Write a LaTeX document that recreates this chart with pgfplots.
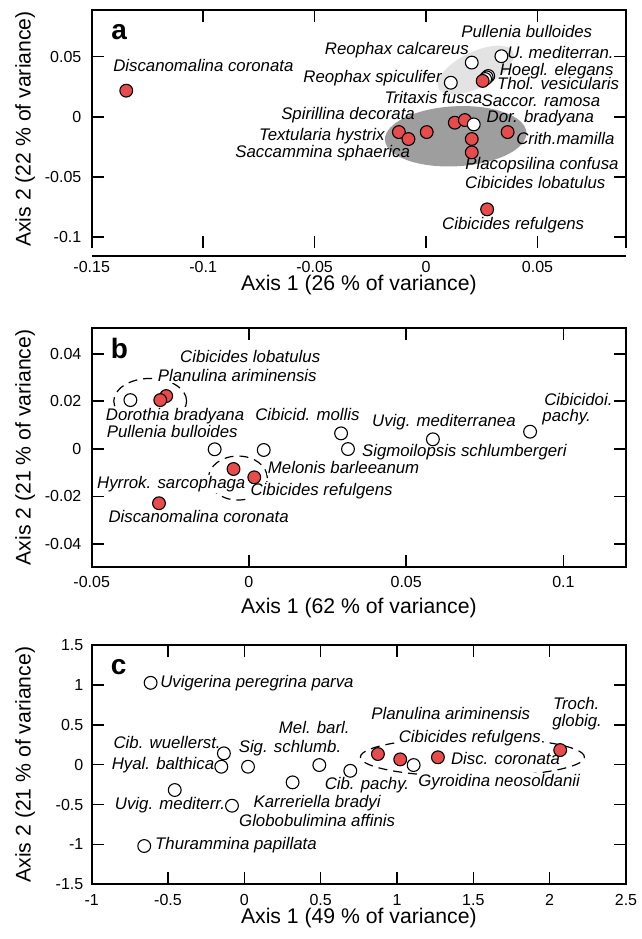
\documentclass[border=0pt]{standalone}
\usepackage{fontspec}
\setmainfont{Liberation Sans}
\usepackage{pgfplots}
\pgfplotsset{compat=1.18}
\definecolor{dotred}{HTML}{E84B4B}
\definecolor{lightgr}{HTML}{E3E3E3}
\definecolor{darkgr}{HTML}{9E9E9E}

\tikzset{
  lab/.style={font=\fontsize{8.4}{10}\selectfont\itshape, anchor=mid, inner sep=0.6pt},
  labw/.style={lab, fill=white},
  let/.style={font=\fontsize{14}{16}\selectfont\bfseries, anchor=center, inner sep=0pt},
  dashell/.style={line width=0.6pt, dash pattern=on 4.5pt off 3pt},
}
\pgfplotsset{
  panel/.style={
    scale only axis, width=267.15pt, anchor=north west,
    clip=false,
    axis line style={line width=0.9pt},
    tick style={line width=0.8pt, color=black},
    tick align=inside, major tick length=6pt,
    scaled ticks=false,
    /pgf/number format/assume math mode=true,
    /pgf/number format/fixed,
    /pgf/number format/precision=2,
    tick label style={font=\fontsize{8}{9.6}\selectfont},
    yticklabel style={anchor=east, inner sep=0pt},
    xticklabel style={anchor=north, inner sep=0pt},
    label style={font=\fontsize{10.6}{12.7}\selectfont},
    ylabel style={at={(axis description cs:-0.1246,0.5)}, anchor=center},
  },
  wdot/.style={only marks, mark=*, mark size=3.2pt,
    mark options={draw=black, fill=white, line width=0.55pt}},
  rdot/.style={only marks, mark=*, mark size=3.2pt,
    mark options={draw=black, fill=dotred, line width=0.55pt}},
}

\begin{document}
\begin{tikzpicture}
\path[use as bounding box] (0,0) rectangle (321pt,-469.5pt);

% ---------------- panel a
\begin{axis}[panel, at={(45.85pt,-5pt)}, height=119pt,
  xmin=-0.15, xmax=0.0897, ymin=-0.1094, ymax=0.0889,
  xtick={-0.15,-0.1,-0.05,0,0.05}, ytick={-0.1,-0.05,0,0.05},
  xticklabel style={yshift=-6.45pt}, yticklabel style={xshift=-5pt},
  separate axis lines,
  every outer x axis line/.append style={draw=none},
  xlabel={Axis 1 (26 \% of variance)}, ylabel={Axis 2 (22 \% of variance)},
  xlabel style={at={(axis description cs:0.5,-0.1555)}, anchor=center},
]
\fill[lightgr, rotate around={26:(axis cs:0.0223,0.0389)}]
  (axis cs:0.0223,0.0389) ellipse [x radius=20.8pt, y radius=9pt];
\fill[darkgr, rotate around={3:(axis cs:0.0133,-0.0163)}]
  (axis cs:0.0133,-0.0163) ellipse [x radius=35.4pt, y radius=15pt];
\draw[line width=0.9pt, line cap=rect] (rel axis cs:0,1) -- (rel axis cs:1,1);
\draw[line width=0.9pt] ([yshift=-4pt]rel axis cs:0,0) -- ([yshift=-4pt]rel axis cs:1,0);

\node[let] at (axis cs:-0.1377,0.0708) {a};
\node[lab] at (axis cs:0.0452,0.0708) {Pullenia bulloides};
\node[lab] at (axis cs:-0.0131,0.0564) {Reophax calcareus};
\node[lab] at (axis cs:0.0603,0.0528) {U. mediterran.};
\node[lab] at (axis cs:0.0586,0.0389) {Hoegl. elegans};
\node[lab] at (axis cs:-0.0240,0.0333) {Reophax spiculifer};
\node[lab] at (axis cs:0.0592,0.0273) {Thol. vesicularis};
\node[lab] at (axis cs:0.0033,0.0158) {Tritaxis fusca};
\node[lab] at (axis cs:0.0515,0.0131) {Saccor. ramosa};
\node[lab] at (axis cs:0.0513,-0.0008) {Dor. bradyana};
\node[lab] at (axis cs:0.0625,-0.0186) {Crith.mamilla};
\node[lab] at (axis cs:0.0520,-0.0397) {Placopsilina confusa};
\node[lab] at (axis cs:0.0490,-0.0550) {Cibicides lobatulus};
\node[lab] at (axis cs:0.0391,-0.0897) {Cibicides refulgens};
\node[lab] at (axis cs:-0.0999,0.0417) {Discanomalina coronata};
\node[lab] at (axis cs:-0.0350,0.0023) {Spirillina decorata};
\node[lab] at (axis cs:-0.0468,-0.0153) {Textularia hystrix};
\node[lab] at (axis cs:-0.0464,-0.0300) {Saccammina sphaerica};

\addplot[wdot] coordinates {(0.0205,0.0451) (0.0338,0.0504) (0.0111,0.0283)
  (0.0279,0.0339) (0.0272,0.0328) (0.0265,0.0314)};
\addplot[rdot] coordinates {(-0.1345,0.0217) (0.0254,0.0298) (-0.0122,-0.0128)
  (-0.0079,-0.0186) (0.0003,-0.0128) (0.0129,-0.0050) (0.0174,-0.0028)
  (0.0205,-0.0186) (0.0205,-0.0297) (0.0366,-0.0128) (0.0274,-0.0772)};
\addplot[wdot] coordinates {(0.0214,-0.0064)};
\end{axis}

% ---------------- panel b
\begin{axis}[panel, at={(45.85pt,-164.15pt)}, height=119.2pt,
  xmin=-0.05, xmax=0.1199, ymin=-0.0496, ymax=0.0507,
  xtick={-0.05,0,0.05,0.1}, ytick={-0.04,-0.02,0,0.02,0.04},
  xticklabel style={yshift=-4.6pt}, yticklabel style={xshift=-5pt},
  xlabel={Axis 1 (62 \% of variance)}, ylabel={Axis 2 (21 \% of variance)},
  xlabel style={at={(axis description cs:0.5,-0.1745)}, anchor=center},
]
\draw[dashell] (axis cs:-0.0314,0.0201) ellipse [x radius=18.2pt, y radius=11.3pt];
\draw[dashell] (axis cs:-0.0035,-0.0123) ellipse [x radius=14.7pt, y radius=11pt];
\node[labw] at (axis cs:0.0004,0.0384) {Cibicides lobatulus};
\node[labw] at (axis cs:-0.0037,0.0304) {Planulina ariminensis};
\node[labw] at (axis cs:-0.0235,0.0142) {Dorothia bradyana};
\node[labw] at (axis cs:-0.0244,0.0069) {Pullenia bulloides};
\node[labw] at (axis cs:0.0186,0.0142) {Cibicid. mollis};
\node[labw] at (axis cs:0.0301,-0.0082) {Melonis barleeanum};
\node[labw] at (axis cs:-0.0247,-0.0143) {Hyrrok. sarcophaga};
\node[labw] at (axis cs:0.0231,-0.0173) {Cibicides refulgens};
\node[labw] at (axis cs:-0.0160,-0.0288) {Discanomalina coronata};
\node[labw] at (axis cs:0.0620,0.0117) {Uvig. mediterranea};
\node[labw] at (axis cs:0.0685,-0.0009) {Sigmoilopsis schlumbergeri};
\node[labw, anchor=mid west, inner sep=0pt] at (axis cs:0.0938,0.0203) {Cibicidoi.};
\node[labw, anchor=mid west, inner sep=0pt] at (axis cs:0.0932,0.0138) {pachy.};
\node[let] at (axis cs:-0.0412,0.0423) {b};

\addplot[wdot] coordinates {(-0.0377,0.0205) (-0.0109,-0.0002) (0.0047,-0.0005)
  (0.0293,0.0065) (0.0315,-0.0001) (0.0585,0.0040) (0.0894,0.0072)};
\addplot[rdot] coordinates {(-0.0263,0.0222) (-0.0282,0.0205) (-0.0049,-0.0085)
  (0.0017,-0.0120) (-0.0286,-0.0229)};
\end{axis}

% ---------------- panel c
\begin{axis}[panel, at={(45.85pt,-322.5pt)}, height=119.65pt,
  xmin=-1, xmax=2.5, ymin=-1.5, ymax=1.5,
  xtick={-1,-0.5,0,0.5,1,1.5,2,2.5}, ytick={-1.5,-1,-0.5,0,0.5,1,1.5},
  xticklabel style={yshift=-4.95pt}, yticklabel style={xshift=-4pt},
  xlabel={Axis 1 (49 \% of variance)}, ylabel={Axis 2 (21 \% of variance)},
  xlabel style={at={(axis description cs:0.5,-0.142)}, anchor=center},
]
\draw[dashell] (axis cs:1.494,0.095) ellipse [x radius=56pt, y radius=9.8pt];
\node[labw] at (axis cs:0.0825,1.039) {Uvigerina peregrina parva};
\node[labw] at (axis cs:0.458,0.455) {Mel. barl.};
\node[labw] at (axis cs:-0.506,0.274) {Cib. wuellerst.};
\node[labw] at (axis cs:0.299,0.224) {Sig. schlumb.};
\node[labw] at (axis cs:-0.533,0.004) {Hyal. balthica};
\node[labw] at (axis cs:-0.487,-0.498) {Uvig. mediterr.};
\node[labw] at (axis cs:0.477,-0.465) {Karreriella bradyi};
\node[labw] at (axis cs:0.477,-0.703) {Globobulimina affinis};
\node[labw] at (axis cs:-0.055,-0.999) {Thurammina papillata};
\node[labw] at (axis cs:1.352,0.634) {Planulina ariminensis};
\node[labw] at (axis cs:1.477,0.350) {Cibicides refulgens};
\node[labw] at (axis cs:1.711,0.066) {Disc. coronata};
\node[labw] at (axis cs:0.803,-0.243) {Cib. pachy.};
\node[labw] at (axis cs:1.669,-0.202) {Gyroidina neosoldanii};
\node[labw, inner sep=0pt] at (axis cs:2.174,0.757) {Troch.};
\node[labw, inner sep=0pt] at (axis cs:2.180,0.550) {globig.};
\node[let] at (axis cs:-0.823,1.227) {c};

\addplot[wdot] coordinates {(-0.614,1.026) (-0.134,0.142) (-0.151,-0.026)
  (0.024,-0.026) (-0.456,-0.318) (-0.081,-0.515) (-0.656,-1.02) (0.316,-0.222)
  (0.491,-0.005) (0.694,-0.077) (1.109,-0.005)};
\addplot[rdot] coordinates {(0.875,0.133) (1.021,0.066) (1.268,0.092) (2.069,0.183)};
\end{axis}
\end{tikzpicture}
\end{document}
